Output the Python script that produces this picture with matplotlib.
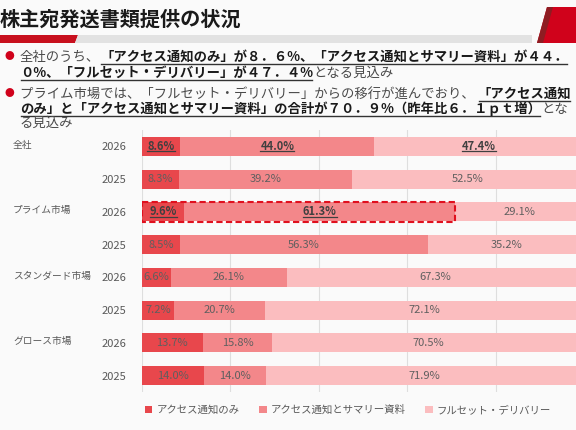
import matplotlib
matplotlib.use('Agg')
import matplotlib.pyplot as plt
from matplotlib.patches import Polygon, Rectangle, Patch
from matplotlib.lines import Line2D
import matplotlib.transforms as mtransforms

plt.rcParams['font.family'] = ['Noto Sans CJK JP', 'DejaVu Sans']

# ---------------- data ----------------
groups = ['全社', 'プライム市場', 'スタンダード市場', 'グロース市場']
years = ['2026', '2025']
series_names = ['アクセス通知のみ', 'アクセス通知とサマリー資料', 'フルセット・デリバリー']
access_only = [8.6, 8.3, 9.6, 8.5, 6.6, 7.2, 13.7, 14.0]
access_summary = [44.0, 39.2, 61.3, 56.3, 26.1, 20.7, 15.8, 14.0]
full_set = [47.4, 52.5, 29.1, 35.2, 67.3, 72.1, 70.5, 71.9]
highlight_cells = {0: [0, 1, 2], 2: [0, 1]}   # row -> emphasised segments
boxed_row = 2

title = '株主宛発送書類提供の状況'
bullet1 = [
    [('全社のうち、', False), ('「アクセス通知のみ」が８．６%、「アクセス通知とサマリー資料」が４４．', True)],
    [('０%、「フルセット・デリバリー」が４７．４%', True), ('となる見込み', False)],
]
bullet2 = [
    [('プライム市場では、「フルセット・デリバリー」からの移行が進んでおり、 ', False), ('「アクセス通知', True)],
    [('のみ」と「アクセス通知とサマリー資料」の合計が７０．９%（昨年比６．１ｐｔ増）', True), ('とな', False)],
    [('る見込み', False)],
]

colors = ['#E8474C', '#F3878A', '#FBBDBF']

W, H = 576, 430
fig = plt.figure(figsize=(W / 100, H / 100), dpi=100, facecolor='#fafafa')
px = mtransforms.IdentityTransform()
renderer = fig.canvas.get_renderer()

# ---------------- header decoration ----------------
def P(pts, color):
    fig.add_artist(Polygon([(x, H - y) for x, y in pts], closed=True, transform=px,
                           facecolor=color, edgecolor='none'))

P([(0, 35), (78, 35), (75, 43), (0, 43)], '#c8101e')
P([(78, 35), (532, 35), (532, 43), (75, 43)], '#e2e2e2')
P([(547, 7), (580, 7), (580, 43), (537, 43)], '#d0021b')
P([(547, 7), (553, 7), (543, 43), (537, 43)], '#8e1c22')

fig.text(0, H - 19, title, transform=px, fontsize=14.5, fontweight='bold',
         ha='left', va='center', color='#1a1a1a')

def draw_runs(x, base, parts, size=9.6):
    for txt, bold in parts:
        t = fig.text(x, H - base, txt, transform=px, fontsize=size,
                     fontweight='bold' if bold else 'normal',
                     color='#1a1a1a' if bold else '#4a4a4a', ha='left', va='baseline')
        bb = t.get_window_extent(renderer)
        if bold:
            fig.add_artist(Line2D([bb.x0 + 1, bb.x1 - 1], [H - base - 2.5] * 2, transform=px,
                                  color='#333333', lw=1.0))
        x = bb.x1

def bullet(y):
    fig.text(9, H - y, '●', transform=px, fontsize=7, color='#d0021b',
             ha='center', va='center')

bases1 = [61, 77]
bases2 = [98, 113, 127]
bullet(56)
for parts, b in zip(bullet1, bases1):
    draw_runs(20, b, parts)
bullet(93)
for parts, b in zip(bullet2, bases2):
    draw_runs(20, b, parts)

# ---------------- chart ----------------
ax = fig.add_axes([142 / W, (H - 392) / H, 442 / W, 262 / H])
ax.set_facecolor('#fafafa')
rows = list(range(len(access_only)))
lefts = [0.0] * len(rows)
bar_h = 0.58
seg_info = []
for vals, c in zip([access_only, access_summary, full_set], colors):
    ax.barh(rows, vals, left=lefts, height=bar_h, color=c, edgecolor='none', zorder=2)
    seg_info.append([(l, v) for l, v in zip(lefts, vals)])
    lefts = [l + v for l, v in zip(lefts, vals)]

ax.set_xlim(0, 100)
ax.set_ylim(len(rows) - 0.5, -0.5)
ax.set_xticks([0, 20, 40, 60, 80, 100])
ax.xaxis.grid(True, color='#dedede', lw=0.8)
ax.set_axisbelow(True)
ax.tick_params(axis='x', length=0, labelbottom=False)
ax.set_yticks(rows, labels=years * len(groups))
ax.tick_params(axis='y', length=0, pad=11, labelsize=8, labelcolor='#595959')
for s in ax.spines.values():
    s.set_visible(False)

# group labels
bt = mtransforms.blended_transform_factory(fig.transFigure, ax.transData)
for i, g in enumerate(groups):
    ax.text(13 / W, i * 2 - 0.05, g, transform=bt, ha='left', va='center',
            fontsize=7, color='#595959')

# segment labels
fig.canvas.draw()
for si, seg in enumerate(seg_info):
    for r, (l, v) in enumerate(seg):
        hl = si in highlight_cells.get(r, [])
        t = ax.text(l + v / 2, r, f'{v:.1f}%', ha='center', va='center', fontsize=8,
                    color='#404040' if hl else '#5f5f5f',
                    fontweight='bold' if hl else 'normal', zorder=4)
        if hl:
            bb = t.get_window_extent(renderer)
            fig.add_artist(Line2D([bb.x0, bb.x1], [bb.y0 + 1.5] * 2, transform=px,
                                  color='#404040', lw=0.9))

# dashed box
box_w = access_only[boxed_row] + access_summary[boxed_row]
ax.add_patch(Rectangle((0, boxed_row - 0.31), box_w, 0.62, fill=False,
                       edgecolor='#e0101e', lw=1.5, ls=(0, (3, 1.6)), zorder=5))

# legend
handles = [Patch(facecolor=c, edgecolor='none') for c in colors]
fig.legend(handles, series_names, loc='center left',
           bbox_to_anchor=(145 / W, (H - 410) / H), ncol=3, frameon=False,
           fontsize=7.5, handlelength=0.7, handleheight=0.7, handletextpad=0.4,
           columnspacing=1.9, labelcolor='#595959', borderaxespad=0, borderpad=0)

fig.savefig('out.png', dpi=100, facecolor=fig.get_facecolor())
